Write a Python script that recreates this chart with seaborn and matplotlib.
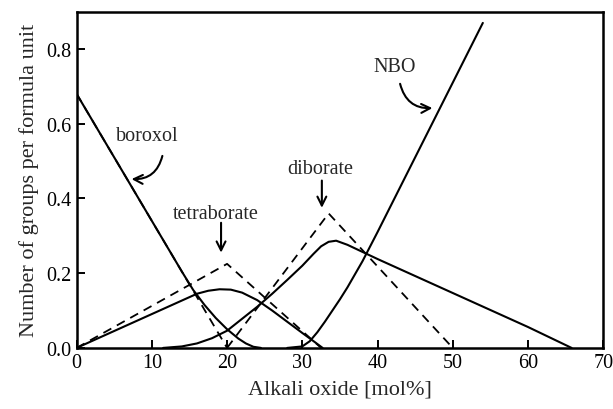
import pandas as pd
import numpy as np
import matplotlib
matplotlib.use("Agg")
import matplotlib.pyplot as plt
import seaborn as sns

# values
boroxol_x = [0, 5, 10, 14, 15.5, 17, 18.5, 20, 21.5, 22.5, 23.5, 24.5]
boroxol_y = [0.68, 0.51, 0.34, 0.204, 0.155, 0.115, 0.08, 0.05, 0.025, 0.012, 0.003, 0.0]
boroxol_ideal_x = [0, 20]
boroxol_ideal_y = [0.68, 0.0]

tetra_x = [0, 16, 17.5, 19, 20.5, 22, 24, 26, 28, 30, 31.5, 32.7]
tetra_y = [0.0, 0.145, 0.153, 0.157, 0.156, 0.148, 0.128, 0.1, 0.07, 0.04, 0.018, 0.0]
tetra_ideal_x = [0, 20, 32.5]
tetra_ideal_y = [0.0, 0.225, 0.0]

dibor_x = [11.5, 14, 16, 18, 20, 22, 24, 26, 28, 30, 31.5, 32.5, 33.5, 34.5, 36, 40, 50, 60, 65.8]
dibor_y = [0.0, 0.004, 0.012, 0.026, 0.046, 0.078, 0.11, 0.145, 0.182, 0.22, 0.252, 0.272,
           0.284, 0.287, 0.276, 0.238, 0.147, 0.056, 0.0]
dibor_ideal_x = [20, 33.5, 50]
dibor_ideal_y = [0.0, 0.36, 0.0]

nbo_x = [28, 30, 31, 32, 33, 34, 35, 36, 38, 40, 47.5, 54]
nbo_y = [0.0, 0.004, 0.018, 0.042, 0.07, 0.1, 0.13, 0.162, 0.232, 0.31, 0.61, 0.87]

x_ticks = [0, 10, 20, 30, 40, 50, 60, 70]
y_ticks = [0.0, 0.2, 0.4, 0.6, 0.8]

sns.set_style("ticks")
plt.rcParams["font.family"] = ["Liberation Serif", "DejaVu Serif"]

fig = plt.figure(figsize=(6.13, 4.10), dpi=100)
ax = fig.add_axes([0.125, 0.149, 0.859, 0.82])

solid = [(boroxol_x, boroxol_y), (tetra_x, tetra_y), (dibor_x, dibor_y), (nbo_x, nbo_y)]
dashed = [(boroxol_ideal_x, boroxol_ideal_y), (tetra_ideal_x, tetra_ideal_y),
          (dibor_ideal_x, dibor_ideal_y)]

for xs, ys in dashed:
    df = pd.DataFrame({"x": xs, "y": ys})
    sns.lineplot(data=df, x="x", y="y", ax=ax, color="black", lw=1.3,
                 dashes=False, linestyle=(0, (5, 3.5)), estimator=None)

for xs, ys in solid:
    df = pd.DataFrame({"x": xs, "y": ys})
    sns.lineplot(data=df, x="x", y="y", ax=ax, color="black", lw=1.5, estimator=None)

ax.set_xlim(0, 70)
ax.set_ylim(0, 0.9)
ax.set_xticks(x_ticks)
ax.set_yticks(y_ticks)
ax.set_yticklabels([f"{v:.1f}" for v in y_ticks])
ax.tick_params(direction="in", length=6, width=1.4, labelsize=14.5, colors="black", pad=4)
for s in ax.spines.values():
    s.set_linewidth(1.8)
    s.set_color("black")

ax.set_xlabel("Alkali oxide [mol%]", fontsize=16, labelpad=5)
ax.set_ylabel("Number of groups per formula unit", fontsize=16, labelpad=5)

arrow = dict(arrowstyle="->", color="black", lw=1.5, mutation_scale=16, shrinkA=0, shrinkB=0)

ax.text(9.4, 0.568, "boroxol", ha="center", va="center", fontsize=14.5)
ax.annotate("", xy=(7.3, 0.452), xytext=(11.4, 0.514),
            arrowprops=dict(arrow, connectionstyle="arc3,rad=-0.4"))

ax.text(18.5, 0.36, "tetraborate", ha="center", va="center", fontsize=14.5)
ax.annotate("", xy=(19.2, 0.255), xytext=(19.2, 0.335), arrowprops=arrow)

ax.text(32.4, 0.479, "diborate", ha="center", va="center", fontsize=14.5)
ax.annotate("", xy=(32.6, 0.375), xytext=(32.6, 0.448), arrowprops=arrow)

ax.text(42.3, 0.752, "NBO", ha="center", va="center", fontsize=14.5)
ax.annotate("", xy=(47.3, 0.642), xytext=(43.0, 0.707),
            arrowprops=dict(arrow, connectionstyle="arc3,rad=0.4"))

fig.savefig("out.png", dpi=100)
